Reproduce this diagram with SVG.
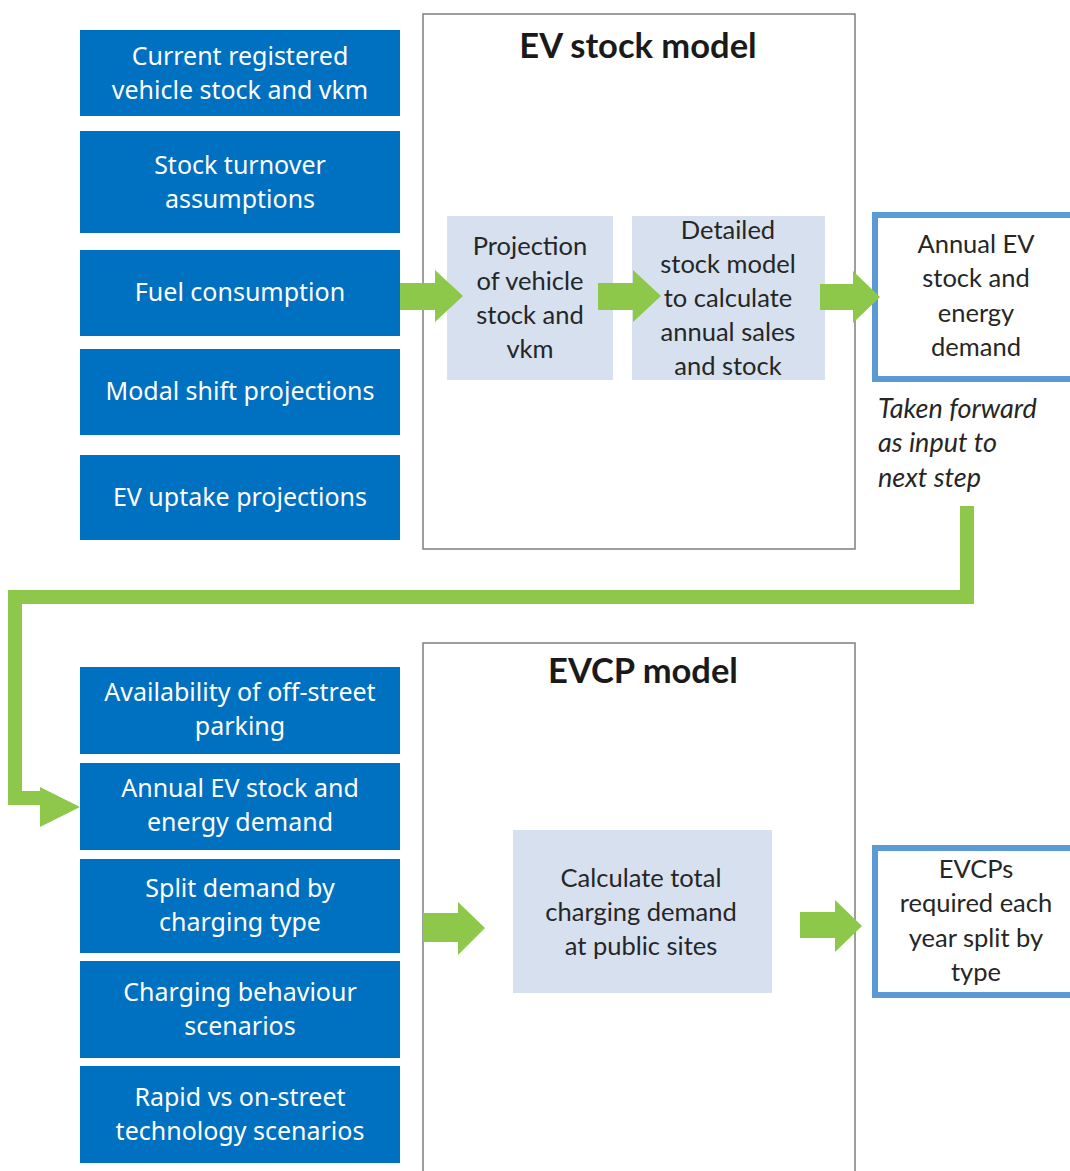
<svg xmlns="http://www.w3.org/2000/svg" width="1070" height="1171" viewBox="0 0 1070 1171">
  <style>
    .input { fill: #0070C0; }
    .input-text { font-family: "Noto Sans", "Open Sans", sans-serif; font-size: 25px; fill: #FFFFFF; text-anchor: middle; }
    .frame { fill: #FFFFFF; stroke: #7F7F7F; stroke-width: 1.5; }
    .title { font-family: "Lato", "Liberation Sans", sans-serif; font-size: 34.5px; font-weight: bold; fill: #1A1A1A; text-anchor: middle; }
    .step { fill: #D6E0EE; }
    .step-text { font-family: "Lato", "Liberation Sans", sans-serif; font-size: 25.5px; fill: #262626; text-anchor: middle; }
    .output { fill: #FFFFFF; stroke: #5B9BD5; stroke-width: 6; }
    .note { font-family: "Lato", "Liberation Sans", sans-serif; font-size: 27px; font-style: italic; fill: #262626; }
    .arrow { fill: #8DC84B; }
    .link { fill: none; stroke: #8DC84B; stroke-width: 14; stroke-linejoin: miter; }
  </style>

  <!-- EV stock model frame -->
  <g id="ev-stock-model">
    <rect class="frame" x="423" y="14" width="432" height="535"/>
    <text class="title" x="638" y="58">EV stock model</text>
  </g>

  <!-- EVCP model frame -->
  <g id="evcp-model">
    <rect class="frame" x="423" y="643" width="432" height="540"/>
    <text class="title" x="643" y="683">EVCP model</text>
  </g>

  <!-- Stock model inputs -->
  <g id="in-registered-stock">
    <rect class="input" x="80" y="30" width="320" height="86"/>
    <text class="input-text" x="240" y="65">Current registered</text>
    <text class="input-text" x="240" y="99">vehicle stock and vkm</text>
  </g>
  <g id="in-stock-turnover">
    <rect class="input" x="80" y="131" width="320" height="102"/>
    <text class="input-text" x="240" y="174">Stock turnover</text>
    <text class="input-text" x="240" y="208">assumptions</text>
  </g>
  <g id="in-fuel-consumption">
    <rect class="input" x="80" y="250" width="320" height="86"/>
    <text class="input-text" x="240" y="301">Fuel consumption</text>
  </g>
  <g id="in-modal-shift">
    <rect class="input" x="80" y="349" width="320" height="86"/>
    <text class="input-text" x="240" y="400">Modal shift projections</text>
  </g>
  <g id="in-ev-uptake">
    <rect class="input" x="80" y="455" width="320" height="85"/>
    <text class="input-text" x="240" y="506">EV uptake projections</text>
  </g>

  <!-- Stock model steps -->
  <g id="step-projection">
    <rect class="step" x="447" y="216" width="166" height="164"/>
    <text class="step-text" x="530" y="255">Projection</text>
    <text class="step-text" x="530" y="290">of vehicle</text>
    <text class="step-text" x="530" y="324">stock and</text>
    <text class="step-text" x="530" y="358">vkm</text>
  </g>
  <g id="step-detailed">
    <rect class="step" x="632" y="216" width="193" height="164"/>
    <text class="step-text" x="728" y="239">Detailed</text>
    <text class="step-text" x="728" y="273">stock model</text>
    <text class="step-text" x="728" y="307">to calculate</text>
    <text class="step-text" x="728" y="341">annual sales</text>
    <text class="step-text" x="728" y="375">and stock</text>
  </g>

  <!-- Stock model output -->
  <g id="out-ev-stock">
    <rect class="output" x="875" y="215" width="205" height="164"/>
    <text class="step-text" x="976" y="253">Annual EV</text>
    <text class="step-text" x="976" y="287">stock and</text>
    <text class="step-text" x="976" y="322">energy</text>
    <text class="step-text" x="976" y="356">demand</text>
  </g>
  <g id="note-forward">
    <text class="note" x="878" y="418">Taken forward</text>
    <text class="note" x="878" y="452">as input to</text>
    <text class="note" x="878" y="487">next step</text>
  </g>

  <!-- EVCP model inputs -->
  <g id="in-off-street">
    <rect class="input" x="80" y="667" width="320" height="87"/>
    <text class="input-text" x="240" y="701">Availability of off-street</text>
    <text class="input-text" x="240" y="735">parking</text>
  </g>
  <g id="in-annual-ev">
    <rect class="input" x="80" y="763" width="320" height="87"/>
    <text class="input-text" x="240" y="797">Annual EV stock and</text>
    <text class="input-text" x="240" y="831">energy demand</text>
  </g>
  <g id="in-split-demand">
    <rect class="input" x="80" y="859" width="320" height="94"/>
    <text class="input-text" x="240" y="897">Split demand by</text>
    <text class="input-text" x="240" y="931">charging type</text>
  </g>
  <g id="in-charging-behaviour">
    <rect class="input" x="80" y="961" width="320" height="97"/>
    <text class="input-text" x="240" y="1001">Charging behaviour</text>
    <text class="input-text" x="240" y="1035">scenarios</text>
  </g>
  <g id="in-rapid-on-street">
    <rect class="input" x="80" y="1066" width="320" height="97"/>
    <text class="input-text" x="240" y="1106">Rapid vs on-street</text>
    <text class="input-text" x="240" y="1140">technology scenarios</text>
  </g>

  <!-- EVCP model step -->
  <g id="step-charging-demand">
    <rect class="step" x="513" y="830" width="259" height="163"/>
    <text class="step-text" x="641" y="887">Calculate total</text>
    <text class="step-text" x="641" y="921">charging demand</text>
    <text class="step-text" x="641" y="955">at public sites</text>
  </g>

  <!-- EVCP model output -->
  <g id="out-evcps">
    <rect class="output" x="875" y="848" width="205" height="147"/>
    <text class="step-text" x="976" y="878">EVCPs</text>
    <text class="step-text" x="976" y="912">required each</text>
    <text class="step-text" x="976" y="947">year split by</text>
    <text class="step-text" x="976" y="981">type</text>
  </g>

  <!-- Connectors -->
  <g id="connectors">
    <path class="arrow" d="M400,283 H435 V270 L463,296 L435,322 V310 H400 Z"/>
    <path class="arrow" d="M598,283 H633 V270 L661,296 L633,322 V310 H598 Z"/>
    <path class="arrow" d="M820,284 H853 V271 L880,297 L853,323 V310 H820 Z"/>
    <polyline class="link" points="967,506 967,597 15,597 15,798 44,798"/>
    <path class="arrow" d="M40,787 L80,807 L40,827 Z"/>
    <path class="arrow" d="M423,913 H458 V902 L485,928 L458,955 V942 H423 Z"/>
    <path class="arrow" d="M800,912 H835 V900 L862,926 L835,952 V938 H800 Z"/>
  </g>
</svg>
